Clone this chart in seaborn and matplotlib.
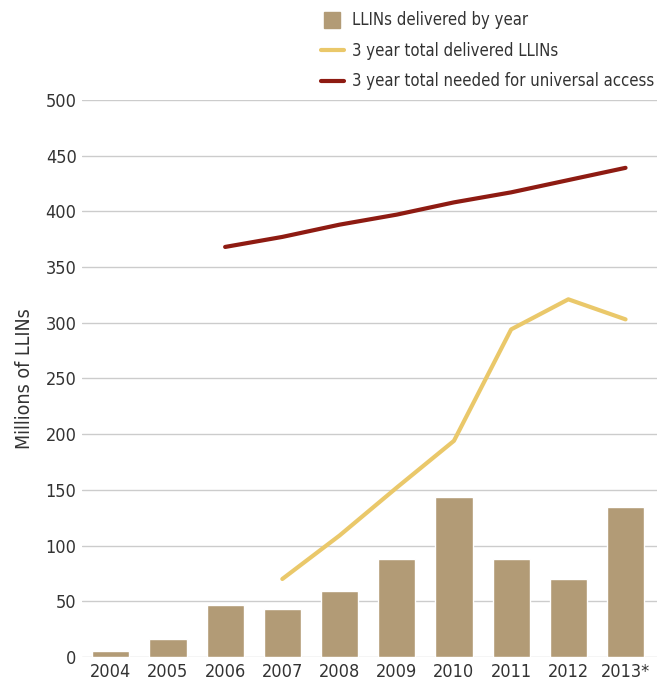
import numpy as np
import pandas as pd
import seaborn as sns
import matplotlib.pyplot as plt
from matplotlib import font_manager
from matplotlib.lines import Line2D

years = ["2004", "2005", "2006", "2007", "2008", "2009", "2010", "2011", "2012", "2013*"]
delivered = [5, 16, 47, 43, 59, 88, 144, 88, 70, 135]
total3_years = ["2007", "2008", "2009", "2010", "2011", "2012", "2013*"]
total3_delivered = [70, 109, 152, 194, 294, 321, 303]
needed_years = ["2006", "2007", "2008", "2009", "2010", "2011", "2012", "2013*"]
needed_total = [368, 377, 388, 397, 408, 417, 428, 439]

bar_color = "#b29b76"
yellow = "#eac86a"
red = "#8e1b12"
text_color = "#333333"

sns.set_theme(style="white")
names = {f.name for f in font_manager.fontManager.ttflist}
if 'Liberation Sans Narrow' in names:
    plt.rcParams['font.family'] = ['Liberation Sans Narrow', 'DejaVu Sans']
else:
    plt.rcParams['font.family'] = ['DejaVu Sans']
    plt.rcParams['font.stretch'] = 'condensed'

fig = plt.figure(figsize=(6.57, 6.84), dpi=100)
ax = fig.add_axes([0.125, 0.0395, 0.875, 0.8145])

df = pd.DataFrame({"year": years, "delivered": delivered})
sns.barplot(data=df, x="year", y="delivered", color=bar_color, width=0.65,
            saturation=1, ax=ax, zorder=2)

pos = {y: i for i, y in enumerate(years)}
sns.lineplot(x=[pos[y] for y in total3_years], y=total3_delivered, color=yellow,
             lw=3, ax=ax, zorder=3, solid_capstyle='round')
sns.lineplot(x=[pos[y] for y in needed_years], y=needed_total, color=red,
             lw=3, ax=ax, zorder=3, solid_capstyle='round')

ax.set_xlim(-0.5, 9.55)
ax.set_ylim(0, 500)
ax.set_yticks(range(0, 501, 50))
ax.yaxis.grid(True, color="#cccccc", lw=1, zorder=0)
ax.set_axisbelow(True)
for s in ax.spines.values():
    s.set_visible(False)
ax.tick_params(axis='both', length=0, labelsize=13, colors=text_color, pad=4)
ax.set_xlabel("")
ax.set_ylabel("Millions of LLINs", fontsize=14, color=text_color, labelpad=8)

handles = [
    Line2D([], [], marker='s', ls='none', color=bar_color, markersize=11),
    Line2D([], [], color=yellow, lw=3),
    Line2D([], [], color=red, lw=3),
]
labels = ["LLINs delivered by year", "3 year total delivered LLINs",
          "3 year total needed for universal access"]
leg = fig.legend(handles, labels, loc='upper left', bbox_to_anchor=(0.478, 0.993),
                 frameon=False, fontsize=12, handlelength=1.4, handletextpad=0.5,
                 labelspacing=0.75, borderaxespad=0)
for t in leg.get_texts():
    t.set_color(text_color)

fig.savefig("out.png", dpi=100)
